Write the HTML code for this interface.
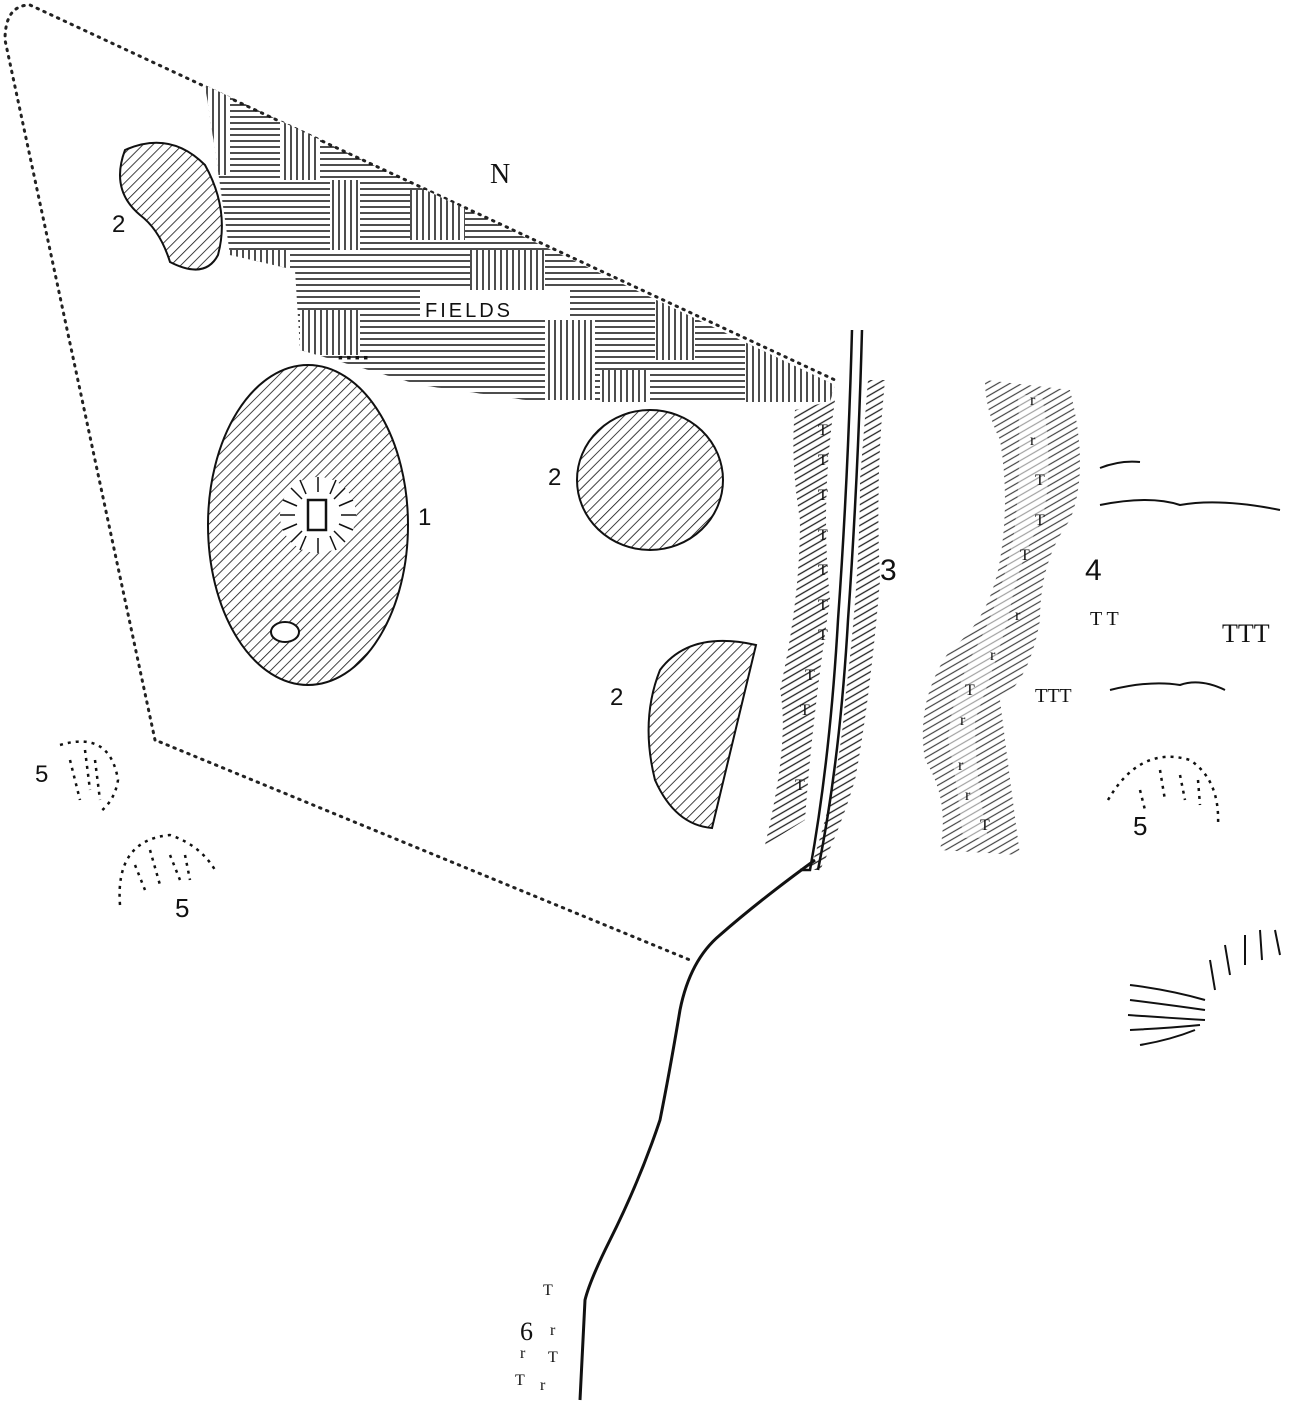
<!DOCTYPE html>
<html><head><meta charset="utf-8"><style>
html,body{margin:0;padding:0;background:#fff;}
svg{display:block;}
text{font-family:"Liberation Serif",serif;fill:#111;}
</style></head><body>
<svg width="1299" height="1414" viewBox="0 0 1299 1414" xmlns="http://www.w3.org/2000/svg">
<defs>
<pattern id="diag" width="7" height="7" patternUnits="userSpaceOnUse" patternTransform="rotate(45)">
<line x1="0" y1="0" x2="0" y2="7" stroke="#111" stroke-width="1.6"/></pattern>
<pattern id="hor" width="8" height="6" patternUnits="userSpaceOnUse">
<line x1="0" y1="3" x2="8" y2="3" stroke="#111" stroke-width="1.5"/></pattern>
<pattern id="ver" width="6" height="8" patternUnits="userSpaceOnUse">
<line x1="3" y1="0" x2="3" y2="8" stroke="#111" stroke-width="1.5"/></pattern>
<pattern id="bank" width="6" height="6" patternUnits="userSpaceOnUse" patternTransform="rotate(-30)">
<line x1="0" y1="3" x2="6" y2="3" stroke="#222" stroke-width="1.3"/></pattern>
<pattern id="bankl" width="6" height="6" patternUnits="userSpaceOnUse" patternTransform="rotate(-30)">
<line x1="0" y1="3" x2="6" y2="3" stroke="#444" stroke-width="1.2"/></pattern>
<clipPath id="fieldclip"><polygon points="205,85 835,385 830,402 540,402 420,385 300,350 295,270 230,255 215,150"/></clipPath>
</defs>

<path d="M155,740 L5,40 Q5,5 30,5 L835,380" fill="none" stroke="#222" stroke-width="3" stroke-dasharray="1.5 6" stroke-linecap="round"/>
<path d="M160,742 L690,960" fill="none" stroke="#222" stroke-width="3" stroke-dasharray="1.5 6" stroke-linecap="round"/>

<g clip-path="url(#fieldclip)">
<rect x="200" y="80" width="640" height="330" fill="url(#hor)"/>
<rect x="205" y="85" width="25" height="90" fill="#fff"/><rect x="205" y="85" width="25" height="90" fill="url(#ver)"/>
<rect x="280" y="110" width="40" height="70" fill="#fff"/><rect x="280" y="110" width="40" height="70" fill="url(#ver)"/>
<rect x="330" y="180" width="30" height="70" fill="#fff"/><rect x="330" y="180" width="30" height="70" fill="url(#ver)"/>
<rect x="410" y="190" width="55" height="50" fill="#fff"/><rect x="410" y="190" width="55" height="50" fill="url(#ver)"/>
<rect x="230" y="250" width="60" height="60" fill="#fff"/><rect x="230" y="250" width="60" height="60" fill="url(#ver)"/>
<rect x="300" y="310" width="60" height="45" fill="#fff"/><rect x="300" y="310" width="60" height="45" fill="url(#ver)"/>
<rect x="470" y="250" width="75" height="45" fill="#fff"/><rect x="470" y="250" width="75" height="45" fill="url(#ver)"/>
<rect x="545" y="320" width="50" height="80" fill="#fff"/><rect x="545" y="320" width="50" height="80" fill="url(#ver)"/>
<rect x="600" y="370" width="50" height="40" fill="#fff"/><rect x="600" y="370" width="50" height="40" fill="url(#ver)"/>
<rect x="655" y="300" width="40" height="60" fill="#fff"/><rect x="655" y="300" width="40" height="60" fill="url(#ver)"/>
<rect x="745" y="340" width="90" height="70" fill="#fff"/><rect x="745" y="340" width="90" height="70" fill="url(#ver)"/>
<rect x="420" y="290" width="150" height="30" fill="#fff"/>
</g>
<text x="425" y="317" font-size="20" style="font-family:'Liberation Sans',sans-serif" letter-spacing="3">FIELDS</text>
<text x="490" y="183" font-size="28">N</text>

<path d="M125,150 Q170,130 205,165 Q230,210 218,255 Q205,280 170,262 Q160,230 140,215 Q110,190 125,150Z" fill="url(#diag)" stroke="#111" stroke-width="2"/>
<text x="112" y="232" font-size="24" style="font-family:'Liberation Sans',sans-serif">2</text>

<ellipse cx="308" cy="525" rx="100" ry="160" fill="url(#diag)" stroke="#111" stroke-width="2"/>
<circle cx="318" cy="515" r="38" fill="#fff"/>
<g stroke="#111" stroke-width="1.5">
<line x1="318" y1="477" x2="318" y2="492"/><line x1="318" y1="538" x2="318" y2="553"/>
<line x1="280" y1="515" x2="295" y2="515"/><line x1="341" y1="515" x2="356" y2="515"/>
<line x1="291" y1="488" x2="302" y2="499"/><line x1="334" y1="531" x2="345" y2="542"/>
<line x1="345" y1="488" x2="334" y2="499"/><line x1="302" y1="531" x2="291" y2="542"/>
<line x1="300" y1="480" x2="306" y2="494"/><line x1="336" y1="480" x2="330" y2="494"/>
<line x1="300" y1="550" x2="306" y2="536"/><line x1="336" y1="550" x2="330" y2="536"/>
<line x1="283" y1="500" x2="297" y2="506"/><line x1="283" y1="530" x2="297" y2="524"/>
<line x1="353" y1="500" x2="339" y2="506"/><line x1="353" y1="530" x2="339" y2="524"/>
</g>
<rect x="308" y="500" width="18" height="30" fill="#fff" stroke="#111" stroke-width="2.5"/>
<ellipse cx="285" cy="632" rx="14" ry="10" fill="#fff" stroke="#111" stroke-width="2"/>
<text x="418" y="525" font-size="24" style="font-family:'Liberation Sans',sans-serif">1</text>
<text x="338" y="362" font-size="14">▪ ▪ ▪ ▪</text>

<ellipse cx="650" cy="480" rx="73" ry="70" fill="url(#diag)" stroke="#111" stroke-width="2"/>
<text x="548" y="485" font-size="24" style="font-family:'Liberation Sans',sans-serif">2</text>

<path d="M756,645 Q690,630 660,670 Q640,720 655,780 Q675,825 712,828 Z" fill="url(#diag)" stroke="#111" stroke-width="2"/>
<text x="610" y="705" font-size="24" style="font-family:'Liberation Sans',sans-serif">2</text>

<path d="M795,410 L835,400 Q820,500 830,600 Q812,720 805,820 L765,845 Q790,740 780,690 Q800,600 800,520 Q790,460 795,410Z" fill="url(#bank)"/>
<path d="M868,380 L885,380 Q875,480 880,580 Q870,700 855,780 Q840,830 820,870 L810,870 Q840,780 845,700 Q860,580 860,480Z" fill="url(#bank)"/>
<path d="M852,330 Q848,480 838,620 Q830,760 810,870 L800,870" fill="none" stroke="#111" stroke-width="2.5"/>
<path d="M862,330 Q858,480 848,620 Q840,760 818,870" fill="none" stroke="#111" stroke-width="2.5"/>
<text x="880" y="580" font-size="30" style="font-family:'Liberation Sans',sans-serif">3</text>
<g font-size="16">
<text x="818" y="435">T</text><text x="818" y="465">T</text><text x="818" y="500">T</text><text x="818" y="540">T</text><text x="818" y="575">T</text><text x="818" y="610">T</text><text x="818" y="640">T</text><text x="805" y="680">T</text><text x="800" y="715">T</text><text x="795" y="790">T</text>
</g>
<path d="M815,860 Q760,900 720,935 Q690,960 680,1010 Q670,1070 660,1120 Q640,1180 610,1240 Q590,1280 585,1300 L580,1400" fill="none" stroke="#111" stroke-width="3"/>

<path d="M985,380 L1070,390 Q1090,470 1070,520 Q1040,560 1040,620 Q1030,680 1000,700 Q1010,780 1020,855 L940,850 Q950,800 925,760 Q915,700 950,650 Q990,620 1000,560 Q1010,500 1000,440 Q985,410 985,380Z" fill="url(#bankl)"/>
<path d="M1018,395 L1042,395 Q1055,470 1042,520 Q1018,560 1008,620 Q990,680 975,720 Q975,780 988,838 L963,838 Q957,780 948,740 Q952,690 980,640 Q1000,600 1013,540 Q1022,480 1018,395Z" fill="#fff" opacity="0.5"/>
<text x="1085" y="580" font-size="30" style="font-family:'Liberation Sans',sans-serif">4</text>
<g font-size="16" fill="#333">
<text x="1030" y="405">r</text><text x="1030" y="445">r</text><text x="1035" y="485">T</text><text x="1035" y="525">T</text><text x="1020" y="560">T</text><text x="1015" y="620">r</text><text x="990" y="660">r</text><text x="965" y="695">T</text><text x="960" y="725">r</text><text x="958" y="770">r</text><text x="965" y="800">r</text><text x="980" y="830">T</text>
</g>
<g font-size="20" fill="#111">
<text x="1090" y="625">T T</text><text x="1222" y="642" font-size="26">TTT</text><text x="1035" y="702">TTT</text>
</g>
<path d="M1100,468 Q1120,460 1140,462 M1100,505 Q1150,495 1180,505 Q1220,498 1280,510" fill="none" stroke="#111" stroke-width="2"/>
<path d="M1110,690 Q1150,680 1180,685 Q1200,678 1225,690" fill="none" stroke="#111" stroke-width="2"/>

<g fill="none" stroke="#111" stroke-width="2.5" stroke-dasharray="3 5">
<path d="M60,745 Q110,730 118,780 Q115,800 100,812"/>
<path d="M70,760 L80,800 M85,750 L90,790 M95,760 L100,800"/>
<path d="M120,905 Q115,840 170,835 Q200,845 215,870"/>
<path d="M135,865 L145,890 M150,850 L160,885 M170,855 L180,880 M185,855 L190,880"/>
<path d="M1108,800 Q1140,745 1190,760 Q1220,780 1218,825"/>
<path d="M1140,790 L1145,810 M1160,770 L1165,800 M1180,775 L1185,800 M1198,780 L1200,805"/>
</g>
<text x="35" y="782" font-size="24" style="font-family:'Liberation Sans',sans-serif">5</text>
<text x="175" y="917" font-size="26" style="font-family:'Liberation Sans',sans-serif">5</text>
<text x="1133" y="835" font-size="26" style="font-family:'Liberation Sans',sans-serif">5</text>

<g fill="none" stroke="#111" stroke-width="2">
<path d="M1130,985 Q1170,990 1205,1000 M1130,1000 Q1170,1005 1205,1010 M1128,1015 Q1170,1018 1205,1020 M1130,1030 Q1170,1028 1200,1025 M1140,1045 Q1170,1040 1195,1030"/>
<path d="M1215,990 L1210,960 M1230,975 L1225,945 M1245,965 L1245,935 M1262,960 L1260,930 M1280,955 L1275,930"/>
</g>

<text x="520" y="1340" font-size="26">6</text>
<g font-size="16"><text x="543" y="1295">T</text><text x="550" y="1335">r</text><text x="520" y="1358">r</text><text x="548" y="1362">T</text><text x="515" y="1385">T</text><text x="540" y="1390">r</text></g>
</svg>
</body></html>
